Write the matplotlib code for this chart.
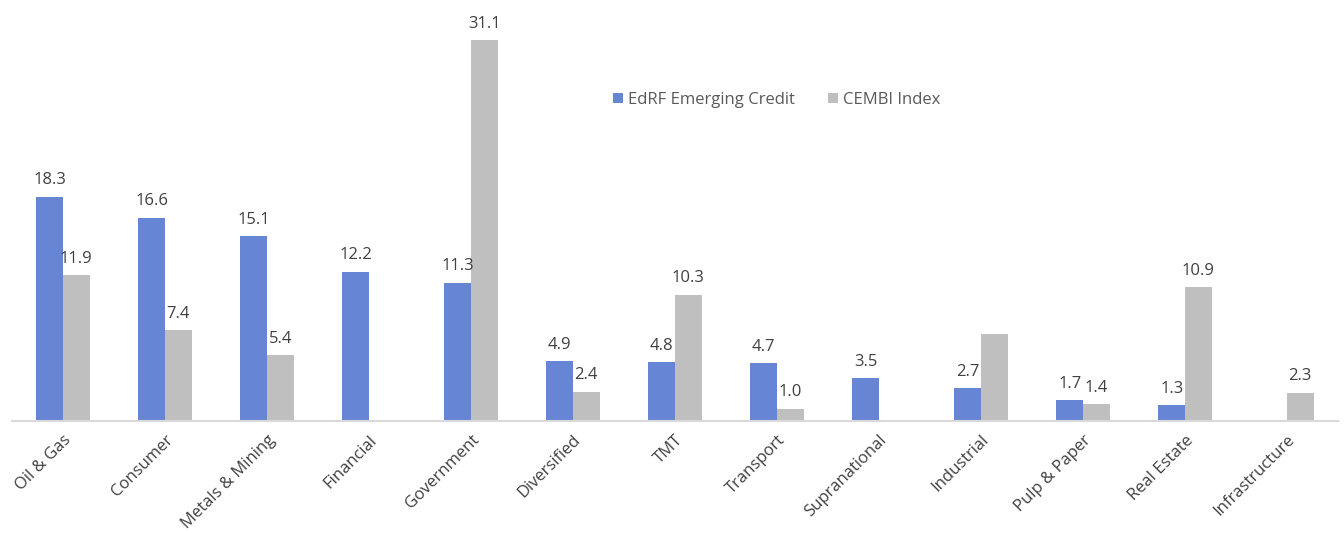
import numpy as np
import matplotlib
matplotlib.use("Agg")
import matplotlib.pyplot as plt

categories = ["Oil & Gas", "Consumer", "Metals & Mining", "Financial", "Government",
              "Diversified", "TMT", "Transport", "Supranational", "Industrial",
              "Pulp & Paper", "Real Estate", "Infrastructure"]
edrf = [18.3, 16.6, 15.1, 12.2, 11.3, 4.9, 4.8, 4.7, 3.5, 2.7, 1.7, 1.3, None]
cembi = [11.9, 7.4, 5.4, None, 31.1, 2.4, 10.3, 1.0, None, 7.1, 1.4, 10.9, 2.3]
cembi_labelled = [True, True, True, False, True, True, True, True, False, False, True, True, True]

plt.rcParams["font.family"] = ["Open Sans", "DejaVu Sans"]
blue = "#6785D5"
grey = "#BFBFBF"
txt = "#404040"
fs = 12

fig = plt.figure(figsize=(13.44, 5.33), dpi=100)
ax = fig.add_axes([12 / 1344, 1 - 421 / 533, 1326 / 1344, 416 / 533])

x = np.arange(len(categories))
w = 0.26
e_vals = [np.nan if v is None else v for v in edrf]
c_vals = [np.nan if v is None else v for v in cembi]
b1 = ax.bar(x - w / 2, e_vals, w, color=blue, label="EdRF Emerging Credit")
b2 = ax.bar(x + w / 2, c_vals, w, color=grey, label="CEMBI Index")

for i, v in enumerate(edrf):
    if v is not None:
        ax.annotate(f"{v:.1f}", (x[i] - w / 2, v), xytext=(0, 6), textcoords="offset points",
                    ha="center", va="bottom", fontsize=fs, color=txt)
for i, v in enumerate(cembi):
    if v is not None and cembi_labelled[i]:
        ax.annotate(f"{v:.1f}", (x[i] + w / 2, v), xytext=(0, 6), textcoords="offset points",
                    ha="center", va="bottom", fontsize=fs, color=txt)

ax.set_xlim(-0.5, len(categories) - 0.5)
ax.set_ylim(0, 33.96)
ax.set_xticks(x)
ax.set_xticklabels(categories, rotation=45, ha="right", rotation_mode="anchor",
                   fontsize=fs, color=txt)
ax.tick_params(axis="x", length=0, pad=8)
ax.set_yticks([])
for s in ["top", "right", "left"]:
    ax.spines[s].set_visible(False)
ax.spines["bottom"].set_color("#D9D9D9")
ax.spines["bottom"].set_linewidth(1.5)

fig.legend(handles=[b1, b2], loc="center left", bbox_to_anchor=(598 / 1344, 1 - 100 / 533),
           ncol=2, frameon=False, fontsize=fs, handlelength=0.6, handleheight=0.6,
           handletextpad=0.3, columnspacing=2.0, labelcolor="#595959")

fig.savefig("out.png", dpi=100)
